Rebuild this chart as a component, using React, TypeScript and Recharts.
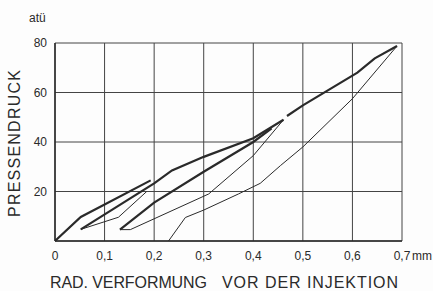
import React from 'react';
import { LineChart, Line, XAxis, YAxis, CartesianGrid } from 'recharts';

// loading / unloading cycles (x in mm, y in atü)
const firstLoad = [
  { x: 0, y: 0 },
  { x: 0.052, y: 9.7 },
  { x: 0.193, y: 24.5 },
];
const firstUnload = [
  { x: 0.185, y: 20 },
  { x: 0.128, y: 9.6 },
  { x: 0.052, y: 4.7 },
];
const secondLoad = [
  { x: 0.052, y: 4.7 },
  { x: 0.2, y: 23.3 },
  { x: 0.236, y: 28.5 },
  { x: 0.3, y: 34 },
  { x: 0.4, y: 41.5 },
  { x: 0.461, y: 49 },
];
const secondUnload = [
  { x: 0.461, y: 49 },
  { x: 0.4, y: 34.5 },
  { x: 0.31, y: 19 },
  { x: 0.152, y: 4.6 },
  { x: 0.131, y: 4.6 },
];
const thirdLoad = [
  { x: 0.131, y: 4.6 },
  { x: 0.2, y: 15.5 },
  { x: 0.3, y: 28 },
  { x: 0.4, y: 40 },
  { x: 0.437, y: 45.5 },
];
const finalLoad = [
  { x: 0.468, y: 50.5 },
  { x: 0.5, y: 54.8 },
  { x: 0.61, y: 68 },
  { x: 0.645, y: 73.8 },
  { x: 0.69, y: 78.8 },
];
const finalUnload = [
  { x: 0.69, y: 78.8 },
  { x: 0.6, y: 57.5 },
  { x: 0.5, y: 38 },
  { x: 0.455, y: 30.5 },
  { x: 0.414, y: 23.3 },
  { x: 0.37, y: 19 },
  { x: 0.3, y: 12.5 },
  { x: 0.263, y: 9.5 },
  { x: 0.229, y: 0 },
];

const xTicks = [0, 0.1, 0.2, 0.3, 0.4, 0.5, 0.6, 0.7];
const yTicks = [0, 20, 40, 60, 80];

const ink = '#2a2a2a';
const font = '"Liberation Sans", Arial, sans-serif';

const fmtX = (v: number) => (v === 0 ? '0' : v.toFixed(1).replace('.', ','));
const fmtY = (v: number) => (v === 0 ? '' : String(v));

const series = [
  { data: firstLoad, w: 2.2 },
  { data: firstUnload, w: 1 },
  { data: secondLoad, w: 2.2 },
  { data: secondUnload, w: 1 },
  { data: thirdLoad, w: 2.2 },
  { data: finalLoad, w: 2.2 },
  { data: finalUnload, w: 1 },
];

export default function App() {
  return (
    <div style={{ position: 'absolute', left: 0, top: 0, width: 433, height: 291, background: '#fdfdfd' }}>
      <LineChart width={433} height={291} margin={{ top: 43, right: 31, bottom: 20, left: 10 }}>
        <CartesianGrid stroke="#444" strokeWidth={1} />
        <XAxis
          dataKey="x"
          type="number"
          domain={[0, 0.7]}
          ticks={xTicks}
          tickFormatter={fmtX}
          allowDataOverflow
          height={30}
          tickLine={false}
          axisLine={{ stroke: ink, strokeWidth: 1.5 }}
          tick={{ fill: ink, fontSize: 12, fontFamily: font }}
          tickMargin={4}
        />
        <YAxis
          type="number"
          domain={[0, 80]}
          ticks={yTicks}
          tickFormatter={fmtY}
          width={45}
          tickLine={false}
          axisLine={{ stroke: ink, strokeWidth: 1.5 }}
          tick={{ fill: ink, fontSize: 12, fontFamily: font }}
        />
        {series.map((s, i) => (
          <Line
            key={i}
            data={s.data}
            dataKey="y"
            type="linear"
            dot={false}
            stroke={ink}
            strokeWidth={s.w}
            isAnimationActive={false}
          />
        ))}
      </LineChart>
      <svg width={433} height={291} style={{ position: 'absolute', left: 0, top: 0, pointerEvents: 'none' }}>
        <text x={29} y={22} fontSize={12} fontFamily={font} fill={ink}>atü</text>
        <text x={412} y={260} fontSize={12} fontFamily={font} fill={ink}>mm</text>
        <text
          x={0}
          y={0}
          transform="translate(20,217) rotate(-90)"
          fontSize={16}
          fontFamily={font}
          fill={ink}
          textLength={147}
          lengthAdjust="spacing"
        >
          PRESSENDRUCK
        </text>
        <text x={50} y={288} fontSize={16} fontFamily={font} fill={ink} textLength={157} lengthAdjust="spacing">
          RAD. VERFORMUNG
        </text>
        <text x={222} y={288} fontSize={16} fontFamily={font} fill={ink} textLength={176} lengthAdjust="spacing">
          VOR DER INJEKTION
        </text>
      </svg>
    </div>
  );
}
